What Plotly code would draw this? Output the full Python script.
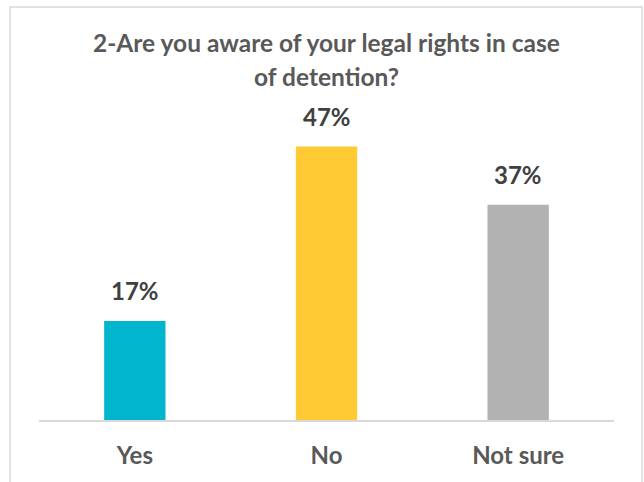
import plotly.graph_objects as go

categories = ["Yes", "No", "Not sure"]
values = [17, 47, 37]
labels = ["17%", "47%", "37%"]
colors = ["#00B5CC", "#FFCA33", "#B2B2B2"]

title_line1 = "2-Are you aware of your legal rights in case"
title_line2 = "of detention?"
FONT = "Lato"

# plot area in pixels: x 39..614, y 71..420
PT, PB = 71, 420
H = PB - PT

def py(pix):
    return (PB - pix) / H

fig = go.Figure()
fig.add_trace(go.Bar(
    x=categories, y=values, marker=dict(color=colors, line=dict(width=0)),
    width=0.32, hoverinfo="skip",
))

for c, v, t in zip(categories, values, labels):
    fig.add_annotation(x=c, y=v, text=t, showarrow=False, yanchor="bottom",
                       yshift=14, font=dict(family=FONT, size=24, color="#404040", weight="bold"))

title_font = dict(family=FONT, size=24.5, color="#595959", weight="bold")
fig.add_annotation(x=0.5, xref="paper", y=py(43), yref="paper", text=title_line1,
                   showarrow=False, xanchor="center", yanchor="middle", font=title_font)
fig.add_annotation(x=0.5, xref="paper", y=py(77), yref="paper", text=title_line2,
                   showarrow=False, xanchor="center", yanchor="middle", font=title_font)

fig.update_layout(
    width=644, height=482,
    margin=dict(l=39, r=30, t=PT, b=482 - PB, autoexpand=False),
    paper_bgcolor="white", plot_bgcolor="white",
    showlegend=False,
    xaxis=dict(showgrid=False, showline=True, linecolor="#D9D9D9", linewidth=1.5,
               ticks="", tickfont=dict(family=FONT, size=24, color="#595959", weight="bold"),
               ticklabelstandoff=13, fixedrange=True, automargin=False),
    yaxis=dict(range=[0, 60], visible=False, showgrid=False, fixedrange=True, automargin=False),
    shapes=[dict(type="rect", xref="paper", yref="paper",
                 x0=(10 - 39) / 575, x1=(642 - 39) / 575,
                 y0=py(495), y1=py(7),
                 line=dict(color="#D9D9D9", width=1.5), fillcolor="rgba(0,0,0,0)", layer="below")],
)

fig.write_html("out.html", config={"displayModeBar": False})
